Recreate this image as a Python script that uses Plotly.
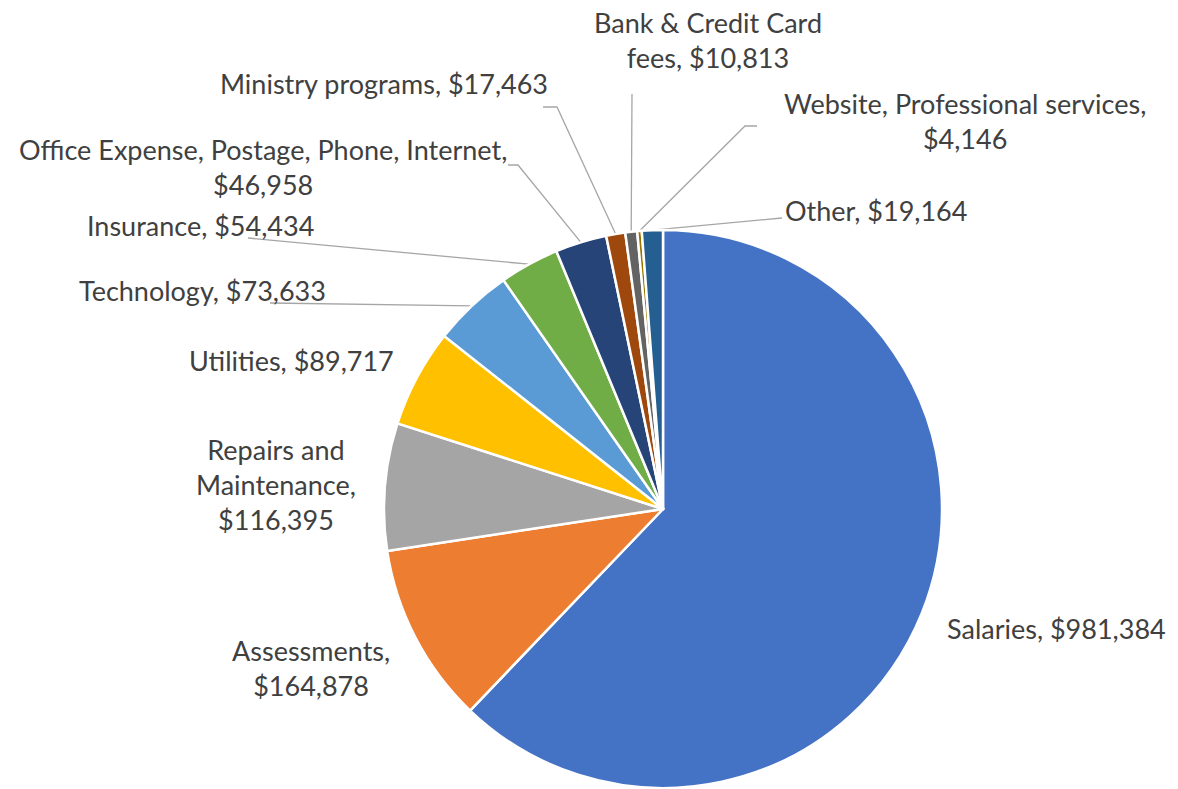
import math
import plotly.graph_objects as go

categories = ["Salaries", "Assessments", "Repairs and Maintenance", "Utilities",
              "Technology", "Insurance", "Office Expense, Postage, Phone, Internet",
              "Ministry programs", "Bank & Credit Card fees",
              "Website, Professional services", "Other"]
amounts = [981384, 164878, 116395, 89717, 73633, 54434, 46958, 17463, 10813, 4146, 19164]
colors = ["#4472C4", "#ED7D31", "#A5A5A5", "#FFC000", "#5B9BD5", "#70AD47",
          "#264478", "#9E480E", "#636363", "#997300", "#255E91"]

# where each label wraps (text after which a line break goes)
wraps = [[], [", "], ["and ", ", "], [], [], [], ["Internet, "], [],
         ["Card "], ["services, "], []]

# label centres and leader-line anchors, in pixels of the 1178x789 page
label_xy = [(1056, 628), (311, 668), (276, 484), (291, 360), (202, 290), (200, 225),
            (263, 167), (384, 83), (708, 40), (965, 121), (876, 210)]
leader_start = [None, None, None, None, (270, 303), (248, 238), (508, 165),
                (543, 107), (632, 94), (757, 126), (782, 218)]
leader_elbow = [None, None, None, None, None, None, (518, 165), (557, 107),
                None, (745, 126), None]

W, H = 1178, 789
cx, cy, r = 663, 509, 279

fig = go.Figure()
fig.add_trace(go.Pie(
    labels=categories, values=amounts, sort=False, direction="clockwise", rotation=0,
    marker=dict(colors=colors, line=dict(color="white", width=2.5)),
    textinfo="none", hoverinfo="label+value", showlegend=False,
    domain=dict(x=[(cx - r) / W, (cx + r) / W], y=[(H - cy - r) / H, (H - cy + r) / H]),
))

total = sum(amounts)
cum = 0
for i, (name, v) in enumerate(zip(categories, amounts)):
    mid = (cum + v / 2) / total * 2 * math.pi
    cum += v
    px_, py_ = cx + r * math.sin(mid), cy - r * math.cos(mid)

    if leader_start[i] is not None:
        pts = [leader_start[i]]
        if leader_elbow[i] is not None:
            pts.append(leader_elbow[i])
        pts.append((px_, py_))
        fig.add_trace(go.Scatter(x=[p[0] for p in pts], y=[p[1] for p in pts],
                                 mode="lines", line=dict(color="#A6A6A6", width=1.3),
                                 hoverinfo="skip", showlegend=False))

    text = f"{name}, ${v:,}"
    for w in wraps[i]:
        text = text.replace(w, w.rstrip() + "<br>", 1)
    fig.add_annotation(x=label_xy[i][0], y=label_xy[i][1], text=text, showarrow=False,
                       xanchor="center", yanchor="middle", align="center",
                       font=dict(family="Lato", size=27, color="#404040"))

fig.update_layout(
    width=W, height=H, margin=dict(l=0, r=0, t=0, b=0),
    paper_bgcolor="white", plot_bgcolor="rgba(0,0,0,0)",
    xaxis=dict(range=[0, W], visible=False, domain=[0, 1], fixedrange=True),
    yaxis=dict(range=[H, 0], visible=False, domain=[0, 1], fixedrange=True),
)
fig.write_html("out.html", config={"displayModeBar": False},
               post_script="document.body.style.margin='0';")
